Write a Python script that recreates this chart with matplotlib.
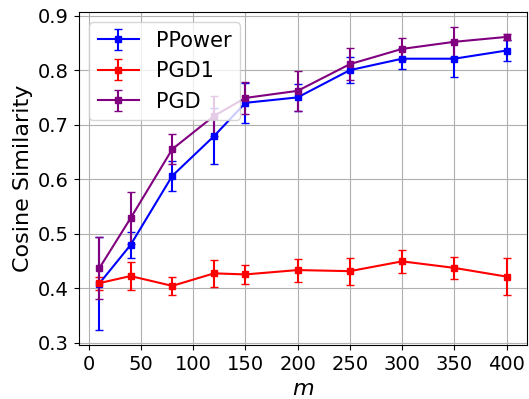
import matplotlib
matplotlib.use("Agg")
import matplotlib.pyplot as plt

m_values = [10, 40, 80, 120, 150, 200, 250, 300, 350, 400]
x_ticks = [0, 50, 100, 150, 200, 250, 300, 350, 400]

ppower_mean = [0.408, 0.479, 0.606, 0.679, 0.740, 0.750, 0.800, 0.821, 0.821, 0.836]
ppower_err = [0.085, 0.024, 0.027, 0.051, 0.037, 0.025, 0.024, 0.019, 0.033, 0.020]

pgd1_mean = [0.409, 0.422, 0.404, 0.427, 0.425, 0.433, 0.431, 0.449, 0.437, 0.421]
pgd1_err = [0.012, 0.025, 0.017, 0.025, 0.017, 0.021, 0.025, 0.021, 0.020, 0.034]

pgd_mean = [0.436, 0.528, 0.655, 0.716, 0.749, 0.762, 0.811, 0.839, 0.852, 0.861]
pgd_err = [0.057, 0.048, 0.028, 0.037, 0.030, 0.037, 0.029, 0.020, 0.027, 0.006]

fig, ax = plt.subplots(figsize=(5.29, 3.99), dpi=100)
ax.errorbar(m_values, ppower_mean, yerr=ppower_err, color="blue", marker="s",
            markersize=5, capsize=3, label="PPower")
ax.errorbar(m_values, pgd1_mean, yerr=pgd1_err, color="red", marker="s",
            markersize=5, capsize=3, label="PGD1")
ax.errorbar(m_values, pgd_mean, yerr=pgd_err, color="purple", marker="s",
            markersize=5, capsize=3, label="PGD")

ax.set_xticks(x_ticks)
ax.set_xlabel("$m$", fontsize=16)
ax.set_ylabel("Cosine Similarity", fontsize=16)
ax.tick_params(labelsize=14)
ax.grid(True)
ax.legend(fontsize=15, loc="upper left")
fig.subplots_adjust(left=0.149, right=0.996, top=0.97, bottom=0.135)
fig.savefig("out.png", dpi=100)
